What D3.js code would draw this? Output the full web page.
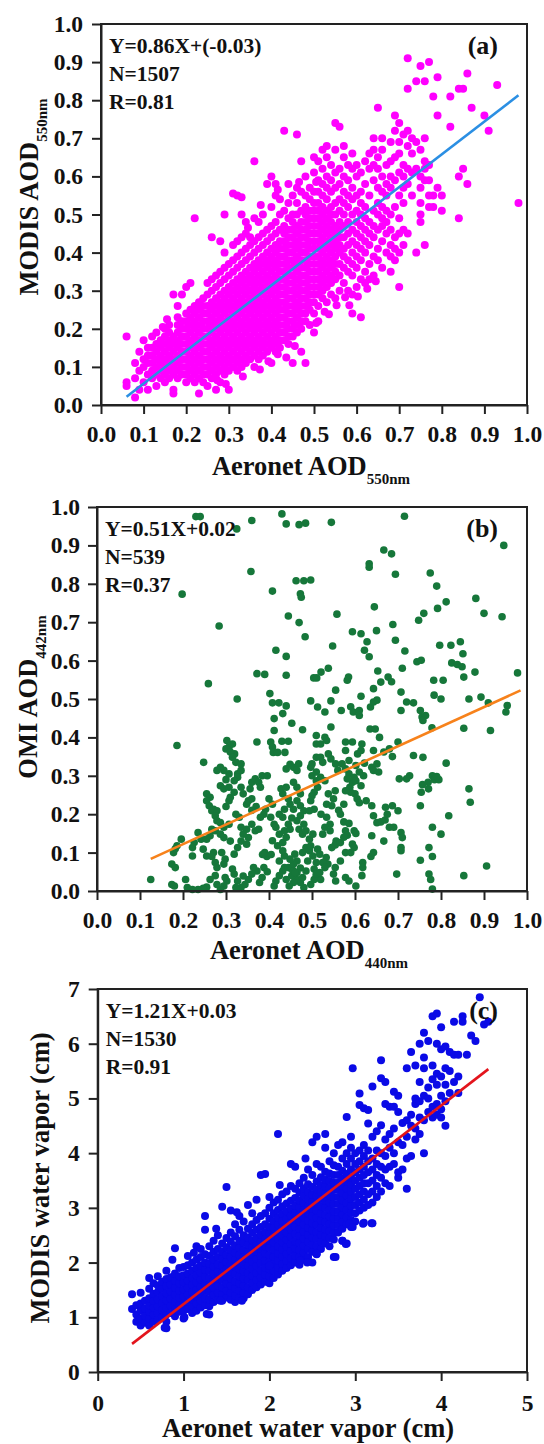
<!DOCTYPE html>
<html>
<head>
<meta charset="utf-8">
<script src="https://cdn.jsdelivr.net/npm/d3@7"></script>
<style>
  body { margin: 0; background: #fff; }
  svg { display: block; }
  text { font-family: "Liberation Serif", "Times New Roman", serif; font-weight: bold; fill: #111; }
</style>
</head>
<body>
<svg width="544" height="1444"></svg>
<script>
// ---- data ----
// (a) MODIS vs Aeronet AOD 550nm : [aeronet x, list of modis y]
var modisCols = [
  [0.06,[.05,.06,.18]],[0.08,[.02,.07,.11]],[0.09,[.04,.09,.14]],[0.10,[.06,.10,.12,.17]],
  [0.11,[.04,.08,.11,.13,.15]],[0.12,[.07,.09,.11,.13,.15,.18]],[0.13,[.05,.08,.10,.12,.14,.16,.19]],
  [0.14,[.07,.09,.11,.13,.15,.17]],[0.15,[.06,.08,.10,.12,.14,.16,.18,.20]],
  [0.16,[.07,.09,.11,.13,.15,.17,.19,.21]],[0.17,[.03,.04,.08,.10,.12,.14,.16,.18,.29]],
  [0.18,[.07,.09,.11,.13,.15,.17,.19,.21,.23,.26]],[0.19,[.08,.10,.12,.14,.16,.18,.20,.22,.29]],
  [0.20,[.06,.08,.10,.12,.14,.16,.18,.20,.22,.24,.31]],[0.21,[.07,.09,.11,.13,.15,.17,.19,.21,.23,.25,.32]],
  [0.22,[.06,.08,.10,.12,.14,.16,.18,.20,.22,.24,.26,.49]],[0.23,[.03,.07,.09,.11,.13,.15,.17,.19,.21,.23,.25,.27]],
  [0.24,[.06,.08,.10,.12,.14,.16,.18,.20,.22,.24,.26,.28]],[0.25,[.05,.08,.10,.12,.14,.16,.18,.20,.22,.24,.26,.29,.32]],
  [0.26,[.07,.09,.11,.13,.15,.17,.19,.21,.23,.25,.27,.30,.33,.44]],
  [0.27,[.04,.08,.10,.12,.14,.16,.18,.20,.22,.24,.26,.28,.31,.34]],
  [0.28,[.06,.09,.11,.13,.15,.17,.19,.21,.23,.25,.27,.29,.32,.35,.43]],
  [0.29,[.08,.10,.12,.14,.16,.18,.20,.22,.24,.26,.28,.30,.33,.36,.40,.50]],
  [0.30,[.04,.09,.11,.13,.15,.17,.19,.21,.23,.25,.27,.29,.31,.34,.37]],
  [0.31,[.10,.12,.14,.16,.18,.20,.22,.24,.26,.28,.30,.32,.35,.38,.42,.555]],
  [0.32,[.09,.11,.13,.15,.17,.19,.21,.23,.25,.27,.29,.31,.33,.36,.39,.43,.55]],
  [0.33,[.10,.12,.14,.16,.18,.20,.22,.24,.26,.28,.30,.32,.34,.37,.40,.44,.50,.545]],
  [0.34,[.11,.13,.15,.17,.19,.21,.23,.25,.27,.29,.31,.33,.35,.38,.41,.45,.48]],
  [0.35,[.12,.14,.16,.18,.20,.22,.24,.26,.28,.30,.32,.34,.36,.39,.42,.44]],
  [0.36,[.10,.13,.15,.17,.19,.21,.23,.25,.27,.29,.31,.33,.35,.37,.40,.43,.49,.64]],
  [0.37,[.12,.14,.16,.18,.20,.22,.24,.26,.28,.30,.32,.34,.36,.38,.41,.44,.48]],
  [0.38,[.13,.15,.17,.19,.21,.23,.25,.27,.29,.31,.33,.35,.37,.39,.42,.45,.50]],
  [0.39,[.14,.16,.18,.20,.22,.24,.26,.28,.30,.32,.34,.36,.38,.40,.43,.46,.58]],
  [0.40,[.11,.15,.17,.19,.21,.23,.25,.27,.29,.31,.33,.35,.37,.39,.41,.44,.47,.52,.60]],
  [0.41,[.14,.16,.18,.20,.22,.24,.26,.28,.30,.32,.34,.36,.38,.40,.42,.45,.48,.55,.58]],
  [0.42,[.15,.17,.19,.21,.23,.25,.27,.29,.31,.33,.35,.37,.39,.41,.43,.46,.50,.54]],
  [0.43,[.17,.19,.21,.23,.25,.27,.29,.31,.33,.35,.37,.39,.41,.43,.45,.47,.51,.72]],
  [0.44,[.16,.18,.20,.22,.24,.26,.28,.30,.32,.34,.36,.38,.40,.42,.44,.46,.49,.53,.58]],
  [0.45,[.11,.18,.20,.22,.24,.26,.28,.30,.32,.34,.36,.38,.40,.42,.44,.46,.48,.50,.55]],
  [0.46,[.19,.21,.23,.25,.27,.29,.31,.33,.35,.37,.39,.41,.43,.45,.47,.50,.53,.57,.71]],
  [0.47,[.14,.20,.22,.24,.26,.28,.30,.32,.34,.36,.38,.40,.42,.44,.46,.48,.51,.56,.64]],
  [0.48,[.11,.22,.24,.26,.28,.30,.32,.34,.36,.38,.40,.42,.44,.46,.48,.50,.52,.55,.60]],
  [0.49,[.21,.25,.27,.29,.31,.33,.35,.37,.39,.41,.43,.45,.47,.49,.51,.54,.57]],
  [0.50,[.19,.24,.27,.29,.31,.33,.35,.37,.39,.41,.43,.45,.47,.49,.51,.53,.56,.61,.65]],
  [0.51,[.22,.26,.29,.31,.33,.35,.37,.39,.41,.43,.45,.47,.49,.51,.53,.56,.59,.64]],
  [0.52,[.28,.30,.32,.34,.36,.38,.40,.42,.44,.46,.48,.50,.52,.55,.58,.62,.67]],
  [0.53,[.27,.31,.33,.35,.37,.39,.41,.43,.45,.47,.49,.51,.54,.57,.60,.65,.68]],
  [0.54,[.29,.32,.34,.36,.38,.40,.42,.44,.46,.48,.50,.52,.56,.59,.63]],
  [0.55,[.28,.33,.35,.37,.39,.41,.43,.45,.47,.50,.53,.57,.61,.67,.74]],
  [0.56,[.30,.34,.37,.40,.42,.44,.46,.48,.51,.54,.58,.62,.73]],
  [0.57,[.32,.36,.39,.41,.44,.47,.50,.53,.56,.60,.65,.68]],
  [0.58,[.30,.35,.38,.42,.45,.48,.52,.55,.59,.63]],
  [0.59,[.24,.29,.34,.37,.40,.43,.46,.50,.54,.57,.62,.66]],
  [0.60,[.31,.36,.39,.42,.45,.48,.51,.55,.60,.63]],
  [0.61,[.23,.33,.38,.41,.44,.47,.50,.53,.56,.61]],
  [0.62,[.32,.35,.40,.43,.46,.49,.52,.58,.64]],
  [0.63,[.33,.37,.42,.45,.48,.55,.62,.66]],
  [0.64,[.34,.39,.44,.47,.51,.59,.63,.67,.70]],
  [0.65,[.38,.41,.46,.50,.53,.57,.62,.65,.78]],
  [0.66,[.36,.43,.47,.49,.52,.56,.60,.67,.70]],
  [0.67,[.40,.45,.48,.51,.55,.58,.63]],
  [0.68,[.35,.39,.42,.46,.50,.57,.60,.64,.69]],
  [0.69,[.38,.41,.44,.52,.59,.65,.72,.76]],
  [0.70,[.31,.40,.45,.49,.55,.61,.66,.69,.74]],
  [0.71,[.42,.46,.53,.57,.60,.63,.71]],
  [0.72,[.45,.58,.62,.68,.72,.83,.91]],
  [0.73,[.55,.61,.66,.70]],[0.74,[.40,.62,.69,.85]],[0.75,[.48,.50,.53,.57,.60,.67,.89]],
  [0.76,[.42,.59,.62,.64,.70,.85]],[0.77,[.52,.55,.59,.63,.90]],[0.78,[.52,.55,.81]],
  [0.79,[.57,.76,.86]],[0.80,[.51,.55]],[0.82,[.73,.81]],[0.84,[.49,.60,.83]],
  [0.85,[.62,.83]],[0.86,[.58,.87]],[0.87,[.78]],[0.90,[.76]],[0.91,[.72]],[0.93,[.84]],[0.98,[.53]]
];
// loose points around the edge of the (a) cloud
var modisExtra = [
  [.145,.205],[.155,.225],[.345,.465],[.375,.525],[.415,.565],[.465,.585],[.505,.585],[.435,.125],
  [.455,.155],[.505,.215],[.525,.245],[.553,.262],[.573,.283],[.583,.262],[.535,.238],[.415,.133],
  [.393,.115],[.373,.093],[.333,.075],[.293,.055],[.273,.065],[.603,.285],[.625,.305],[.645,.325]
];

// (b) OMI AOD 442nm vs Aeronet AOD 440nm : [aeronet x, omi y]
var omiPts = [
  [.23,.975],[.24,.975],[.36,.965],[.43,.982],[.44,.956],[.47,.954],[.485,.958],[.545,.96],[.715,.976],[.946,.90],[.325,.943],
  [.667,.888],[.685,.878],[.633,.852],[.633,.843],[.358,.832],[.694,.825],[.775,.828],[.79,.794],[.408,.781],[.463,.808],
  [.481,.808],[.497,.81],[.473,.774],[.475,.765],[.198,.773],[.881,.762],[.812,.753],[.645,.74],[.792,.736],[.90,.723],
  [.942,.714],[.558,.721],[.445,.716],[.76,.723],[.748,.705],[.47,.699],[.284,.69],[.688,.694],[.484,.662],[.594,.675],
  [.614,.67],[.628,.649],[.65,.678],[.694,.653],[.823,.64],[.797,.64],[.845,.649],[.548,.638],[.416,.627],[.44,.611],
  [.622,.627],[.633,.61],[.716,.625],[.851,.618],[.744,.597],[.754,.601],[.825,.594],[.838,.59],[.849,.584],[.853,.557],
  [.978,.568],[.879,.57],[.653,.573],[.71,.58],[.372,.566],[.39,.564],[.44,.562],[.538,.58],[.521,.57],[.504,.555],
  [.511,.555],[.582,.549],[.585,.557],[.259,.54],[.677,.557],[.685,.545],[.783,.549],[.805,.549],[.66,.544],[.643,.527],
  [.555,.523],[.707,.518],[.784,.51],[.80,.50],[.865,.50],[.893,.505],[.91,.49],[.954,.483],[.951,.466],[.326,.50],
  [.402,.514],[.408,.49],[.423,.49],[.44,.482],[.497,.495],[.513,.479],[.53,.466],[.544,.495],[.614,.507],[.59,.48],
  [.596,.466],[.61,.47],[.61,.457],[.636,.479],[.643,.492],[.651,.497],[.72,.492],[.736,.49],[.752,.47],[.756,.453],
  [.764,.457],[.758,.444],[.707,.47],[.568,.47],[.432,.462],[.412,.449],[.544,.427],[.779,.425],[.853,.424],[.915,.418],
  [.453,.437],[.478,.42],[.635,.422],[.647,.422],[.412,.418],[.372,.388],[.404,.388],[.408,.375],[.43,.39],[.445,.39],
  [.51,.405],[.51,.383],[.52,.383],[.53,.40],[.534,.392],[.578,.388],[.578,.366],[.594,.388],[.616,.383],[.657,.40],
  [.70,.388],[.68,.37],[.667,.362],[.643,.366],[.736,.353],[.758,.348],[.302,.392],[.307,.375],[.315,.383],[.32,.357],
  [.41,.361],[.42,.361],[.437,.361],[.449,.33],[.44,.318],[.457,.322],[.469,.331],[.465,.314],[.50,.331],[.51,.348],
  [.52,.348],[.525,.335],[.538,.357],[.544,.344],[.555,.331],[.56,.314],[.586,.34],[.602,.327],[.622,.333],[.639,.322],
  [.643,.314],[.651,.331],[.655,.31],[.687,.35],[.727,.30],[.72,.292],[.703,.292],[.812,.333],[.865,.266],[.868,.231],
  [.78,.30],[.785,.29],[.795,.29],[.79,.298],[.77,.283],[.757,.277],[.771,.266],[.754,.257],[.752,.222],[.818,.196],
  [.78,.166],[.80,.148],[.707,.152],[.71,.139],[.707,.113],[.707,.105],[.752,.08],[.78,.09],[.772,.113],[.772,.044],
  [.776,.03],[.78,.005],[.697,.044],[.853,.04],[.906,.065],[.618,.074],[.618,.061],[.616,.04],[.637,.09],[.643,.10],
  [.667,.13],[.639,.144],[.68,.166],[.69,.166],[.66,.18],[.67,.185],[.675,.20],[.643,.196],[.651,.178],[.687,.222],
  [.671,.218],[.70,.209],[.639,.222],[.626,.235],[.605,.24],[.61,.23],[.60,.253],[.59,.257],[.614,.274],[.588,.27],
  [.578,.261],[.594,.283],[.574,.226],[.562,.21],[.566,.20],[.574,.18],[.586,.176],[.578,.157],[.582,.145],[.598,.157],
  [.602,.15],[.594,.122],[.598,.113],[.578,.10],[.59,.10],[.566,.078],[.554,.061],[.55,.044],[.555,.026],[.578,.035],
  [.586,.026],[.602,.013],[.533,.087],[.537,.07],[.525,.074],[.53,.061],[.51,.04],[.52,.03],[.505,.03],[.497,.017],
  [.481,.009],[.473,.022],[.465,.03],[.457,.022],[.453,.04],[.447,.013],[.44,.03],[.432,.052],[.436,.061],[.445,.061],
  [.453,.057],[.457,.052],[.424,.04],[.416,.026],[.412,.013],[.388,.061],[.396,.05],[.384,.035],[.378,.022],[.372,.052],
  [.364,.061],[.36,.044],[.352,.03],[.344,.017],[.335,.009],[.34,.039],[.327,.026],[.319,.044],[.315,.057],[.323,.009],
  [.302,.026],[.298,.035],[.295,.013],[.287,.004],[.275,.04],[.279,.017],[.263,.03],[.255,.01],[.247,.007],[.235,.004],
  [.222,.004],[.21,.009],[.206,.03],[.174,.017],[.18,.013],[.125,.03],[.174,.07],[.182,.061],[.178,.10],[.182,.11],
  [.186,.118],[.196,.135],[.186,.379],[.248,.335],[.255,.253],[.263,.244],[.255,.235],[.261,.222],[.271,.213],[.267,.209],
  [.279,.209],[.275,.196],[.235,.152],[.226,.126],[.222,.113],[.242,.135],[.247,.109],[.255,.091],[.222,.091],[.255,.135],
  [.263,.144],[.267,.161],[.275,.157],[.279,.183],[.287,.178],[.287,.148],[.295,.139],[.307,.174],[.295,.166],[.271,.10],
  [.267,.09],[.275,.074],[.279,.061],[.29,.10],[.298,.083],[.295,.07],[.31,.13],[.327,.113],[.319,.096],[.335,.13],
  [.348,.122],[.352,.139],[.335,.166],[.348,.161],[.34,.148],[.36,.174],[.368,.157],[.376,.161],[.331,.192],[.323,.20],
  [.30,.22],[.307,.235],[.31,.244],[.319,.257],[.287,.274],[.295,.266],[.307,.27],[.30,.29],[.307,.305],[.295,.314],
  [.287,.322],[.279,.314],[.327,.305],[.327,.296],[.319,.287],[.335,.314],[.30,.37],[.31,.362],[.315,.348],[.323,.335],
  [.335,.331],[.335,.27],[.34,.253],[.356,.266],[.36,.283],[.368,.292],[.376,.283],[.38,.27],[.384,.30],[.396,.30],
  [.392,.213],[.388,.20],[.38,.192],[.37,.22],[.36,.21],[.348,.226],[.352,.235],[.36,.24],[.40,.24],[.408,.226],
  [.404,.192],[.412,.174],[.416,.166],[.424,.148],[.408,.131],[.42,.118],[.39,.10],[.395,.09],[.385,.095],[.405,.095],
  [.432,.126],[.44,.14],[.436,.157],[.449,.161],[.445,.174],[.453,.19],[.432,.192],[.424,.20],[.436,.213],[.449,.226],
  [.457,.213],[.445,.24],[.432,.253],[.428,.266],[.44,.27],[.457,.283],[.465,.27],[.473,.253],[.465,.235],[.473,.222],
  [.481,.209],[.473,.196],[.465,.183],[.481,.174],[.47,.161],[.478,.148],[.486,.157],[.494,.135],[.502,.148],[.486,.113],
  [.494,.105],[.478,.10],[.502,.091],[.49,.078],[.497,.118],[.513,.109],[.518,.096],[.51,.074],[.46,.096],[.465,.078],
  [.457,.07],[.449,.083],[.424,.078],[.436,.091],[.432,.105],[.473,.06],[.486,.052],[.465,.048],[.478,.035],[.461,.048],
  [.505,.057],[.51,.044],[.518,.048],[.521,.20],[.534,.192],[.542,.174],[.53,.166],[.542,.157],[.525,.148],[.534,.226],
  [.546,.222],[.538,.253],[.55,.24],[.554,.261],[.51,.287],[.52,.296],[.53,.287],[.513,.27],[.505,.257],[.497,.235],
  [.50,.248],[.505,.213],[.494,.209],[.50,.30],[.51,.31],[.497,.322],[.556,.13],[.554,.12],[.546,.113],[.566,.126],
  [.574,.14],[.586,.305],[.582,.292],[.598,.296],[.602,.287],[.578,.318],[.57,.331],[.61,.31],[.62,.30],[.606,.357],[.614,.366]
];

// (c) MODIS vs Aeronet water vapor (cm) : [aeronet x, list of modis y]
var wvCols = [
  [0.40,[1.15,1.42]],[0.45,[0.92,1.05,1.22]],[0.50,[0.85,0.98,1.12,1.25,1.45]],[0.55,[0.90,1.03,1.16,1.30]],
  [0.60,[0.85,0.98,1.10,1.22,1.35,1.52,1.72]],[0.65,[0.92,1.05,1.18,1.30,1.43,1.62]],
  [0.70,[0.95,1.08,1.20,1.33,1.46,1.58,1.75]],[0.75,[1.00,1.13,1.26,1.39,1.52,1.65]],
  [0.80,[0.80,0.92,1.05,1.18,1.31,1.44,1.57,1.70,1.85]],[0.85,[1.08,1.21,1.34,1.47,1.60,1.73]],
  [0.90,[1.02,1.15,1.28,1.41,1.54,1.67,1.80,2.26]],[0.95,[1.10,1.23,1.36,1.49,1.62,1.75,1.90]],
  [1.00,[0.98,1.12,1.25,1.38,1.51,1.64,1.77,1.92]],[1.05,[1.15,1.28,1.41,1.54,1.67,1.80,1.95,2.12]],
  [1.10,[1.08,1.20,1.33,1.46,1.59,1.72,1.85,2.00]],[1.15,[1.12,1.25,1.38,1.51,1.64,1.77,1.90,2.05,2.30]],
  [1.20,[1.18,1.30,1.43,1.56,1.69,1.82,1.95,2.10,2.25]],[1.25,[1.22,1.35,1.48,1.61,1.74,1.87,2.00,2.15,2.60,2.85]],
  [1.30,[1.05,1.20,1.33,1.46,1.59,1.72,1.85,1.98,2.12,2.30]],[1.35,[1.28,1.41,1.54,1.67,1.80,1.93,2.06,2.20,2.40]],
  [1.40,[1.32,1.45,1.58,1.71,1.84,1.97,2.10,2.25,2.50]],[1.45,[1.30,1.42,1.55,1.68,1.81,1.94,2.07,2.20,2.35,3.02]],
  [1.50,[1.36,1.49,1.62,1.75,1.88,2.01,2.14,2.28,2.45,3.38]],
  [1.55,[1.32,1.45,1.58,1.71,1.84,1.97,2.10,2.23,2.38,2.55,2.95]],
  [1.60,[1.28,1.40,1.53,1.66,1.79,1.92,2.05,2.18,2.31,2.48,2.70]],
  [1.65,[1.36,1.49,1.62,1.75,1.88,2.01,2.14,2.27,2.40,2.60,2.85]],
  [1.70,[1.35,1.45,1.58,1.71,1.84,1.97,2.10,2.23,2.36,2.50,2.75]],
  [1.75,[1.42,1.55,1.68,1.81,1.94,2.07,2.20,2.33,2.46,2.62,3.05]],
  [1.80,[1.50,1.63,1.76,1.89,2.02,2.15,2.28,2.41,2.55,2.70,2.90]],
  [1.85,[1.55,1.68,1.81,1.94,2.07,2.20,2.33,2.46,2.60,2.78,3.15]],
  [1.90,[1.60,1.73,1.86,1.99,2.12,2.25,2.38,2.51,2.65,2.85,3.60]],
  [1.95,[1.65,1.78,1.91,2.04,2.17,2.30,2.43,2.56,2.70,2.90,3.62]],
  [2.00,[1.62,1.75,1.88,2.01,2.14,2.27,2.40,2.53,2.66,2.80,3.00,3.20]],
  [2.05,[1.72,1.85,1.98,2.11,2.24,2.37,2.50,2.63,2.76,2.90,3.10]],
  [2.10,[1.78,1.91,2.04,2.17,2.30,2.43,2.56,2.69,2.82,2.96,3.15,4.35]],
  [2.15,[1.85,1.98,2.11,2.24,2.37,2.50,2.63,2.76,2.89,3.03,3.25]],
  [2.20,[1.90,2.03,2.16,2.29,2.42,2.55,2.68,2.81,2.94,3.08,3.30]],
  [2.25,[1.95,2.08,2.21,2.34,2.47,2.60,2.73,2.86,2.99,3.13,3.40,3.80]],
  [2.30,[2.00,2.13,2.26,2.39,2.52,2.65,2.78,2.91,3.04,3.18,3.35,3.75]],
  [2.35,[1.96,2.10,2.23,2.36,2.49,2.62,2.75,2.88,3.01,3.14,3.28,3.45]],
  [2.40,[2.05,2.18,2.31,2.44,2.57,2.70,2.83,2.96,3.09,3.22,3.36,3.55]],
  [2.45,[2.10,2.25,2.38,2.51,2.64,2.77,2.90,3.03,3.16,3.29,3.43,3.70]],
  [2.50,[2.00,2.20,2.33,2.46,2.59,2.72,2.85,2.98,3.11,3.24,3.38,3.60,4.20]],
  [2.55,[2.15,2.30,2.43,2.56,2.69,2.82,2.95,3.08,3.21,3.34,3.48,3.80,4.30]],
  [2.60,[2.25,2.38,2.51,2.64,2.77,2.90,3.03,3.16,3.29,3.42,3.56,3.75]],
  [2.65,[2.35,2.48,2.61,2.74,2.87,3.00,3.13,3.26,3.39,3.52,3.66,4.10,4.35]],
  [2.70,[2.30,2.45,2.58,2.71,2.84,2.97,3.10,3.23,3.36,3.49,3.63,3.85]],
  [2.75,[2.10,2.42,2.55,2.68,2.81,2.94,3.07,3.20,3.33,3.46,3.60,3.78,4.00]],
  [2.80,[2.55,2.68,2.81,2.94,3.07,3.20,3.33,3.46,3.60,3.75,4.15]],
  [2.85,[2.40,2.62,2.75,2.88,3.01,3.14,3.27,3.40,3.54,3.68,3.90,4.20]],
  [2.90,[2.35,2.70,2.83,2.96,3.09,3.22,3.35,3.48,3.62,3.80,4.00,4.66]],
  [2.95,[2.65,2.78,2.91,3.04,3.17,3.30,3.43,3.56,3.70,3.90,4.10,4.30]],
  [2.97,[5.55]],
  [3.00,[2.75,2.90,3.05,3.20,3.35,3.50,3.65,3.80,4.00]],
  [3.05,[2.95,3.10,3.25,3.40,3.55,3.70,3.85,4.05,4.88,5.09]],
  [3.10,[2.73,3.00,3.15,3.30,3.45,3.60,3.75,3.95,4.15,4.82]],
  [3.15,[3.05,3.25,3.45,3.65,3.85,4.05,4.54,4.79]],
  [3.20,[2.72,3.10,3.30,3.50,3.70,3.90,4.30,5.22]],
  [3.25,[3.20,3.40,3.60,3.80,4.05,4.40]],
  [3.30,[3.30,3.55,3.75,4.00,4.51,5.37,5.70]],
  [3.35,[3.45,3.70,3.95,4.25,4.90,5.30]],
  [3.40,[3.40,3.75,4.10,4.35,4.85]],
  [3.45,[3.80,4.00,4.45,4.85,5.12]],
  [3.50,[3.55,3.65,4.20,4.75,5.05]],
  [3.55,[3.70,4.15,4.55]],
  [3.60,[3.35,3.90,4.30,4.60,5.55]],
  [3.65,[3.95,4.50,4.70,5.85]],
  [3.70,[4.25,4.45,4.90,5.00,5.60]],
  [3.75,[4.35,4.65,4.95,5.30,6.00]],
  [3.80,[4.00,4.60,5.05,5.55,5.75,6.20]],
  [3.85,[4.75,5.00,5.20,6.05]],
  [3.90,[4.65,4.85,5.35,5.60,6.50]],
  [3.95,[4.70,4.90,5.25,5.45,6.00,6.55]],
  [4.00,[4.65,4.80,5.05,5.40,5.90,6.30]],
  [4.05,[4.50,4.95,5.25,5.55,5.95]],
  [4.10,[5.10,5.50,5.85]],[4.15,[5.30,5.80,6.40]],[4.20,[5.10,5.40,5.80]],[4.25,[6.40,6.50]],
  [4.30,[5.80]],[4.35,[6.15]],[4.40,[6.05]],[4.45,[6.85]],[4.50,[6.35]],[4.55,[6.40]]
];
// loose points along the lower edge of the (c) cloud
var wvExtra = [
  [2.77,2.10],[2.85,2.40],[2.89,2.34],[2.93,2.71],[2.97,2.65],[3.09,2.71],[3.19,2.72],[2.36,2.04],
  [2.44,2.00],[2.55,2.16],[2.00,1.94],[1.68,1.30],[1.43,1.30],[1.27,1.06],[1.01,1.00],[0.78,0.81],
  [0.87,2.05],[1.12,2.18],[1.38,2.62],[1.62,2.92],[2.12,3.42],[2.42,3.90]
];

// regression lines: [slope, intercept, x from, x to]
var fitA = [0.86, -0.03, 0.06, 0.98];
var fitB = [0.51, 0.02, 0.125, 0.985];
var fitC = [1.21, 0.03, 0.40, 4.55];

var aodTicks = [0, 0.1, 0.2, 0.3, 0.4, 0.5, 0.6, 0.7, 0.8, 0.9, 1.0];
var wvXTicks = [0, 1, 2, 3, 4, 5];
var wvYTicks = [0, 1, 2, 3, 4, 5, 6, 7];

var statsA = ["Y=0.86X+(-0.03)", "N=1507", "R=0.81"];
var statsB = ["Y=0.51X+0.02", "N=539", "R=0.37"];
var statsC = ["Y=1.21X+0.03", "N=1530", "R=0.91"];

function flatten(cols) {
  var out = [];
  cols.forEach(function(c) { c[1].forEach(function(v) { out.push([c[0], v]); }); });
  return out;
}

var svg = d3.select("svg");

function drawPanel(o) {
  var x = d3.scaleLinear().domain(o.xDomain).range([o.left, o.right]);
  var y = d3.scaleLinear().domain(o.yDomain).range([o.bottom, o.top]);
  var g = svg.append("g");

  g.selectAll("circle")
    .data(o.points)
    .enter()
    .append("circle")
    .attr("cx", function(d) { return x(d[0]); })
    .attr("cy", function(d) { return y(d[1]); })
    .attr("r", o.r)
    .attr("fill", o.color);

  var f = o.fit;
  g.append("line")
    .attr("x1", x(f[2])).attr("y1", y(f[0] * f[2] + f[1]))
    .attr("x2", x(f[3])).attr("y2", y(f[0] * f[3] + f[1]))
    .attr("stroke", o.lineColor)
    .attr("stroke-width", 2.6);

  var xAxis = g.append("g")
    .attr("transform", "translate(0," + o.bottom + ")")
    .call(d3.axisBottom(x).tickValues(o.xTicks).tickFormat(o.fmt)
      .tickSize(9).tickSizeOuter(0).tickPadding(o.xPad));
  var yAxis = g.append("g")
    .attr("transform", "translate(" + o.left + ",0)")
    .call(d3.axisLeft(y).tickValues(o.yTicks).tickFormat(o.fmt)
      .tickSize(9).tickSizeOuter(0).tickPadding(o.yPad));
  [xAxis, yAxis].forEach(function(a) {
    a.attr("font-family", null).attr("font-size", null);
    a.selectAll("path, line").attr("stroke", "#222").attr("stroke-width", 2);
    a.selectAll("text").attr("font-size", 23.5).attr("fill", "#111");
  });

  g.append("rect")
    .attr("x", o.left).attr("y", o.top)
    .attr("width", o.right - o.left).attr("height", o.bottom - o.top)
    .attr("fill", "none").attr("stroke", "#222").attr("stroke-width", 2);

  // stats text
  o.stats.forEach(function(s, i) {
    g.append("text")
      .attr("x", o.left + 8).attr("y", o.top + 29 + i * 28)
      .attr("font-size", 21.5).text(s);
  });
  g.append("text")
    .attr("x", 498).attr("y", o.top + 30)
    .attr("text-anchor", "end").attr("font-size", 26).text(o.tag);

  // x title
  var xt = g.append("text")
    .attr("x", o.xTitleX).attr("y", o.bottom + o.xTitleDy)
    .attr("text-anchor", "middle").attr("font-size", 26.5);
  xt.append("tspan").text(o.xTitle[0]);
  if (o.xTitle[1]) xt.append("tspan").attr("font-size", 15).attr("dy", 9).text(o.xTitle[1]);

  // y title
  var yt = g.append("text")
    .attr("transform", "translate(" + o.yTitleX + "," + o.yTitleY + ") rotate(-90)")
    .attr("text-anchor", "middle").attr("font-size", 26.5);
  yt.append("tspan").text(o.yTitle[0]);
  if (o.yTitle[1]) yt.append("tspan").attr("font-size", 15).attr("dy", 9).text(o.yTitle[1]);
}

drawPanel({
  points: flatten(modisCols).concat(modisExtra), color: "#ff00ff", r: 4,
  fit: fitA, lineColor: "#2b8fe3",
  xDomain: [0, 1], yDomain: [0, 1], xTicks: aodTicks, yTicks: aodTicks, fmt: d3.format(".1f"),
  left: 101, right: 527, top: 24, bottom: 405, xPad: 11, yPad: 9,
  stats: statsA, tag: "(a)",
  xTitle: ["Aeronet AOD", "550nm"], xTitleX: 311, xTitleDy: 70,
  yTitle: ["MODIS AOD", "550nm"], yTitleX: 38, yTitleY: 197
});

drawPanel({
  points: omiPts, color: "#16773a", r: 3.8,
  fit: fitB, lineColor: "#f7821b",
  xDomain: [0, 1], yDomain: [0, 1], xTicks: aodTicks, yTicks: aodTicks, fmt: d3.format(".1f"),
  left: 97, right: 527, top: 507, bottom: 891, xPad: 11, yPad: 8,
  stats: statsB, tag: "(b)",
  xTitle: ["Aeronet AOD", "440nm"], xTitleX: 309, xTitleDy: 68,
  yTitle: ["OMI AOD", "442nm"], yTitleX: 37, yTitleY: 697
});

drawPanel({
  points: flatten(wvCols).concat(wvExtra), color: "#0a0ae6", r: 4,
  fit: fitC, lineColor: "#e3141c",
  xDomain: [0, 5], yDomain: [0, 7], xTicks: wvXTicks, yTicks: wvYTicks, fmt: d3.format("d"),
  left: 97.7, right: 527, top: 989, bottom: 1372, xPad: 13, yPad: 9,
  stats: statsC, tag: "(c)",
  xTitle: ["Aeronet water vapor (cm)"], xTitleX: 308, xTitleDy: 65,
  yTitle: ["MODIS water vapor (cm)"], yTitleX: 49, yTitleY: 1178
});
</script>
</body>
</html>
